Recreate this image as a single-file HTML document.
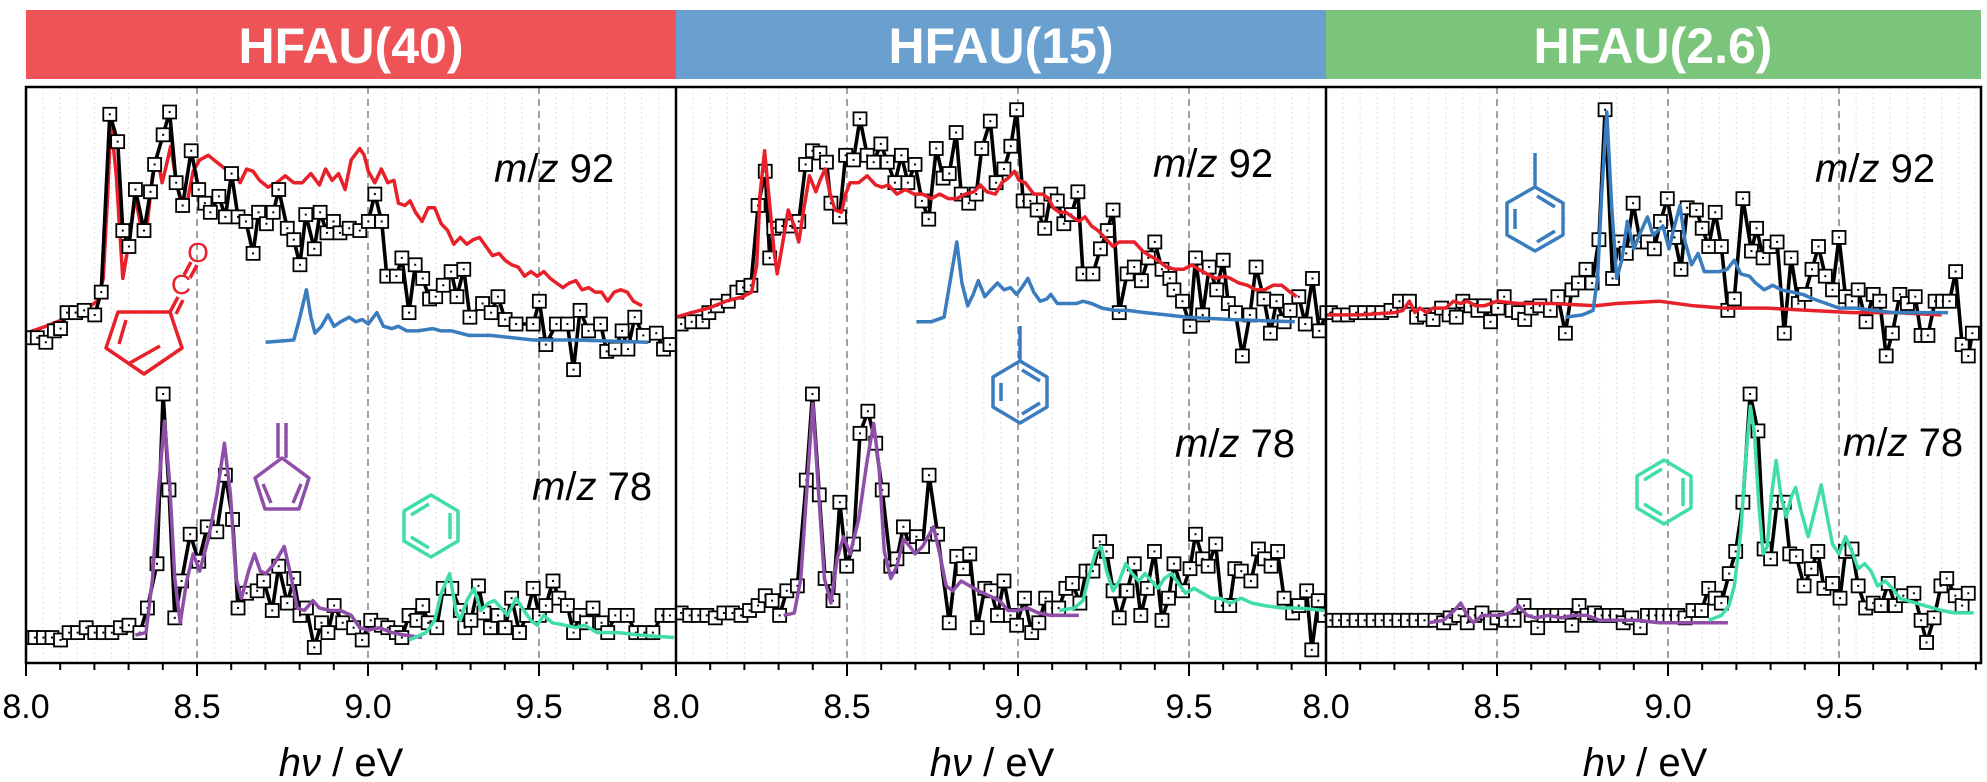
<!DOCTYPE html>
<html><head><meta charset="utf-8"><style>
html,body{margin:0;padding:0;background:#fff;}
svg{display:block;font-family:"Liberation Sans",Arial,sans-serif;}
</style></head><body>
<svg id="chart" width="1987" height="782" viewBox="0 0 1987 782" xmlns="http://www.w3.org/2000/svg">
<defs>
<clipPath id="c0"><rect x="26" y="87" width="650" height="576"/></clipPath>
<clipPath id="c1"><rect x="676" y="87" width="650" height="576"/></clipPath>
<clipPath id="c2"><rect x="1326" y="87" width="655" height="576"/></clipPath>
</defs>
<g>
<rect x="26" y="10" width="650" height="69" fill="#ee5457"/>
<rect x="676" y="10" width="650" height="69" fill="#6aa0cf"/>
<rect x="1326" y="10" width="655" height="69" fill="#7bc47b"/>
<text x="351" y="63" text-anchor="middle" fill="#fff" font-weight="bold" font-size="50">HFAU(40)</text>
<text x="1001" y="63" text-anchor="middle" fill="#fff" font-weight="bold" font-size="50">HFAU(15)</text>
<text x="1653" y="63" text-anchor="middle" fill="#fff" font-weight="bold" font-size="50">HFAU(2.6)</text>
</g>
<g id="grid"></g>
<g id="series"></g>
<g fill="none" stroke-width="3.5" stroke-linejoin="round">
 <g stroke="#e8202a">
  <polygon points="170,312 182,348 144,374 106,348 118,312"/>
  <line x1="126" y1="320" x2="119" y2="344"/><line x1="128" y1="364" x2="160" y2="346"/>
  <line x1="170" y1="312" x2="178" y2="297"/><line x1="176" y1="314" x2="183" y2="300"/>
  <line x1="184" y1="275" x2="191" y2="262"/><line x1="190" y1="278" x2="197" y2="265"/>
 </g>
 <text x="181" y="294" fill="#e8202a" font-size="28" text-anchor="middle">C</text>
 <text x="198" y="262" fill="#e8202a" font-size="28" text-anchor="middle">O</text>
 <g stroke="#8f4fa8">
  <polygon points="282,458 309,478 299,509 265,509 255,478"/>
  <line x1="263" y1="484" x2="271" y2="503"/><line x1="301" y1="484" x2="293" y2="503"/>
  <line x1="278" y1="458" x2="278" y2="423"/><line x1="286" y1="458" x2="286" y2="423"/>
 </g>
 <g stroke="#40dcac">
  <polygon points="431,495 458,511 458,541 431,557 404,541 404,511"/>
  <line x1="411" y1="515" x2="429" y2="504"/><line x1="450" y1="513" x2="450" y2="539"/><line x1="411" y1="537" x2="429" y2="548"/>
 </g>
 <g stroke="#3a7dbf">
  <polygon points="1020,361 1047,377 1047,407 1020,423 993,407 993,377"/>
  <line x1="1001" y1="383" x2="1001" y2="401"/><line x1="1022" y1="370" x2="1040" y2="381"/><line x1="1022" y1="414" x2="1040" y2="403"/>
  <line x1="1020" y1="361" x2="1020" y2="326"/>
 </g>
 <g stroke="#3a7dbf">
  <polygon points="1535,187 1563,203 1563,235 1535,251 1507,235 1507,203"/>
  <line x1="1515" y1="209" x2="1515" y2="229"/><line x1="1537" y1="196" x2="1555" y2="207"/><line x1="1537" y1="242" x2="1555" y2="231"/>
  <line x1="1535" y1="187" x2="1535" y2="153"/>
 </g>
 <g stroke="#40dcac">
  <polygon points="1664,460 1691,476 1691,508 1664,524 1637,508 1637,476"/>
  <line x1="1644" y1="480" x2="1662" y2="469"/><line x1="1683" y1="478" x2="1683" y2="506"/><line x1="1644" y1="504" x2="1662" y2="515"/>
 </g>
</g>
<g font-size="40" fill="#000">
 <text x="494" y="182"><tspan font-style="italic">m</tspan>/<tspan font-style="italic">z</tspan> 92</text>
 <text x="532" y="500"><tspan font-style="italic">m</tspan>/<tspan font-style="italic">z</tspan> 78</text>
 <text x="1153" y="177"><tspan font-style="italic">m</tspan>/<tspan font-style="italic">z</tspan> 92</text>
 <text x="1175" y="457"><tspan font-style="italic">m</tspan>/<tspan font-style="italic">z</tspan> 78</text>
 <text x="1815" y="182"><tspan font-style="italic">m</tspan>/<tspan font-style="italic">z</tspan> 92</text>
 <text x="1843" y="456"><tspan font-style="italic">m</tspan>/<tspan font-style="italic">z</tspan> 78</text>
</g>
<g id="axes"></g>
</svg>
<script>
// ---------- data ----------
const xTicks=[8.0,8.5,9.0,9.5];
const xTickLabels=["8.0","8.5","9.0","9.5"];
// Panel 1 HFAU(40) m/z 92
const p1u_exp_ev=[8.000,8.033,8.058,8.083,8.101,8.120,8.145,8.170,8.201,8.220,8.245,8.268,8.283,8.301,8.320,8.345,8.364,8.376,8.401,8.420,8.439,8.458,8.483,8.505,8.523,8.539,8.564,8.583,8.601,8.620,8.643,8.664,8.680,8.703,8.723,8.739,8.764,8.783,8.801,8.818,8.843,8.860,8.880,8.899,8.918,8.945,8.976,9.001,9.020,9.040,9.055,9.083,9.099,9.120,9.138,9.160,9.180,9.198,9.220,9.243,9.260,9.280,9.298,9.335,9.360,9.380,9.401,9.433,9.483,9.501,9.520,9.551,9.583,9.601,9.620,9.645,9.680,9.698,9.723,9.743,9.760,9.780,9.805,9.843,9.864,9.883];
const p1u_exp_int=[1,1,-1,4,5,12,12,13,11,21,99,87,48,41,66,48,65,77,90,100,69,59,83,66,60,56,63,54,73,54,52,38,56,51,56,66,49,44,33,55,40,56,47,52,47,49,48,52,64,52,28,28,36,12,33,27,18,19,24,30,19,31,10,16,12,19,9,7,7,17,-2,7,7,-13,13,4,7,-5,-4,4,-4,10,2,3,-4,-2];
const p1u_red_ev=[8.000,8.058,8.108,8.170,8.208,8.226,8.239,8.248,8.264,8.283,8.301,8.320,8.339,8.351,8.370,8.383,8.398,8.408,8.423,8.439,8.455,8.473,8.489,8.508,8.533,8.558,8.583,8.608,8.626,8.645,8.664,8.683,8.708,8.733,8.758,8.783,8.808,8.833,8.858,8.876,8.895,8.914,8.933,8.951,8.976,8.989,9.001,9.020,9.039,9.058,9.076,9.089,9.108,9.123,9.139,9.158,9.176,9.195,9.214,9.233,9.251,9.270,9.289,9.308,9.326,9.345,9.364,9.383,9.401,9.420,9.439,9.458,9.476,9.495,9.514,9.533,9.551,9.570,9.589,9.608,9.626,9.645,9.664,9.683,9.701,9.720,9.739,9.758,9.776,9.801];
const p1u_red_int=[3,6,9,13,17,27,64,96,72,27,43,63,47,46,72,81,69,75,85,70,59,62,74,79,81,78,75,75,69,75,74,70,67,69,72,69,69,73,68,75,70,73,66,79,84,81,74,69,75,69,70,60,59,61,56,52,58,58,51,48,42,45,42,44,45,41,37,38,35,33,32,28,30,28,30,27,25,23,25,26,22,23,21,21,17,21,22,21,17,15];
const p1u_blue_ev=[8.701,8.783,8.801,8.820,8.833,8.845,8.864,8.883,8.901,8.920,8.945,8.964,8.983,9.001,9.026,9.045,9.070,9.089,9.114,9.145,9.189,9.214,9.245,9.295,9.358,9.483,9.608,9.820];
const p1u_blue_int=[-1,0,10,22,10,3,6,11,6,8,10,8,9,7,12,6,5,6,4,4,5,4,4,2,2,0,0,-1];
// Panel 1 m/z 78
const p1l_exp_ev=[8.000,8.026,8.051,8.076,8.101,8.126,8.151,8.176,8.201,8.226,8.251,8.276,8.301,8.333,8.355,8.383,8.401,8.418,8.435,8.455,8.480,8.505,8.530,8.558,8.583,8.604,8.620,8.645,8.676,8.695,8.720,8.739,8.764,8.783,8.801,8.820,8.843,8.864,8.883,8.901,8.926,8.958,8.983,9.008,9.039,9.058,9.083,9.099,9.120,9.143,9.160,9.176,9.201,9.220,9.245,9.270,9.283,9.301,9.323,9.339,9.358,9.380,9.401,9.420,9.443,9.464,9.483,9.501,9.520,9.541,9.558,9.583,9.601,9.620,9.639,9.658,9.683,9.701,9.723,9.758,9.783,9.808,9.833,9.860,9.883];
const p1l_exp_int=[1,1,1,1,0,3,3,5,3,3,3,5,6,3,13,31,100,61,9,24,43,32,46,44,67,49,13,19,20,24,12,30,15,25,10,13,-3,7,3,14,7,5,0,8,6,5,3,1,10,8,14,7,5,21,21,12,5,8,22,11,5,10,5,17,3,10,21,10,14,24,17,14,3,10,7,13,7,3,10,10,3,3,3,10,10];
const p1l_purple_ev=[8.320,8.351,8.370,8.389,8.405,8.420,8.435,8.451,8.470,8.489,8.508,8.533,8.558,8.580,8.598,8.614,8.630,8.651,8.668,8.685,8.701,8.726,8.755,8.773,8.793,8.814,8.839,8.858,8.889,8.920,8.951,8.976,9.001,9.033,9.070,9.108,9.158];
const p1l_purple_int=[2,3,25,64,89,64,25,7,24,35,28,41,59,80,59,25,17,28,35,28,27,31,38,27,13,12,16,13,12,12,10,5,4,5,3,2,1];
const p1l_teal_ev=[9.120,9.170,9.195,9.214,9.239,9.258,9.270,9.289,9.310,9.330,9.351,9.370,9.389,9.408,9.433,9.451,9.476,9.495,9.514,9.539,9.576,9.608,9.633,9.670,9.733,9.795,9.895];
const p1l_teal_int=[0,3,8,19,27,11,8,16,21,12,15,16,13,10,17,13,8,6,10,7,6,5,6,3,3,2,1];
// Panel 2 HFAU(15) m/z 92
const p2u_exp_ev=[8.015,8.046,8.078,8.096,8.121,8.153,8.178,8.196,8.219,8.240,8.261,8.274,8.286,8.311,8.334,8.359,8.379,8.399,8.421,8.440,8.453,8.478,8.496,8.519,8.538,8.559,8.578,8.599,8.618,8.640,8.659,8.678,8.699,8.719,8.739,8.761,8.781,8.799,8.819,8.834,8.856,8.878,8.894,8.919,8.936,8.959,8.979,8.996,9.015,9.036,9.056,9.078,9.096,9.115,9.134,9.156,9.175,9.190,9.219,9.241,9.261,9.278,9.296,9.319,9.340,9.361,9.381,9.400,9.421,9.444,9.456,9.481,9.503,9.519,9.540,9.559,9.581,9.600,9.615,9.636,9.656,9.678,9.696,9.719,9.738,9.756,9.778,9.796,9.821,9.840,9.861,9.881,9.903];
const p2u_exp_int=[7,8,8,12,15,17,21,23,24,59,74,36,49,50,50,52,77,83,82,78,60,54,81,79,97,81,78,86,78,69,81,69,77,61,53,84,71,73,91,64,60,64,84,96,69,75,85,101,61,61,57,49,64,61,51,55,65,29,29,40,48,57,12,29,32,26,36,43,31,27,22,17,6,36,11,32,22,35,16,12,-7,11,32,18,3,17,8,13,19,7,27,4,12];
const p2u_red_ev=[8.000,8.046,8.096,8.146,8.196,8.221,8.236,8.246,8.259,8.271,8.286,8.296,8.309,8.328,8.346,8.359,8.371,8.390,8.409,8.421,8.436,8.449,8.465,8.484,8.496,8.509,8.534,8.559,8.584,8.603,8.621,8.646,8.671,8.696,8.721,8.746,8.771,8.796,8.821,8.846,8.871,8.890,8.909,8.934,8.953,8.971,8.990,9.003,9.021,9.046,9.071,9.090,9.103,9.121,9.140,9.159,9.178,9.196,9.215,9.234,9.259,9.278,9.296,9.321,9.340,9.365,9.384,9.409,9.434,9.459,9.484,9.509,9.528,9.553,9.578,9.603,9.621,9.646,9.671,9.696,9.721,9.746,9.771,9.796,9.815];
const p2u_red_int=[10,12,14,17,19,21,33,64,83,64,40,29,40,57,50,43,55,72,65,70,75,65,57,56,64,69,69,72,68,67,68,64,66,64,64,62,64,62,62,64,65,68,65,64,69,71,74,70,69,64,64,62,58,56,56,54,52,54,50,48,44,41,43,43,43,39,37,35,32,31,31,33,31,29,27,28,27,25,24,22,22,24,24,21,19];
const p2u_blue_ev=[8.703,8.746,8.784,8.803,8.821,8.836,8.853,8.869,8.884,8.903,8.921,8.940,8.959,8.978,8.996,9.011,9.029,9.046,9.065,9.084,9.096,9.115,9.146,9.171,9.190,9.215,9.246,9.284,9.321,9.371,9.434,9.496,9.621,9.809];
const p2u_blue_int=[8,8,10,27,43,25,15,20,26,19,22,25,22,23,20,23,27,21,17,18,20,16,16,16,17,16,14,13,13,12,11,10,9,8];
// Panel 2 m/z 78
const p2l_exp_ev=[8.015,8.040,8.065,8.090,8.115,8.140,8.165,8.190,8.215,8.240,8.261,8.281,8.303,8.324,8.355,8.381,8.399,8.419,8.436,8.459,8.479,8.499,8.519,8.538,8.561,8.584,8.603,8.628,8.646,8.665,8.684,8.703,8.721,8.740,8.765,8.799,8.821,8.840,8.859,8.881,8.903,8.921,8.940,8.959,8.978,8.996,9.019,9.040,9.061,9.081,9.099,9.119,9.140,9.159,9.181,9.199,9.219,9.239,9.259,9.278,9.296,9.319,9.340,9.359,9.378,9.399,9.421,9.440,9.456,9.481,9.503,9.519,9.540,9.556,9.578,9.596,9.619,9.634,9.653,9.681,9.703,9.721,9.740,9.759,9.778,9.803,9.821,9.844,9.859,9.878,9.896];
const p2l_exp_int=[11,10,10,10,9,11,11,10,12,14,18,16,10,20,22,65,100,59,25,16,56,30,39,84,93,80,61,30,33,46,38,42,38,67,43,7,34,29,35,5,21,20,10,24,10,6,17,3,7,17,13,13,21,23,15,28,28,40,36,20,9,20,31,10,21,36,8,17,31,20,29,43,33,30,39,14,14,29,28,24,37,33,30,36,17,11,14,20,-4,16,10];
const p2l_purple_ev=[8.315,8.346,8.365,8.384,8.400,8.415,8.434,8.453,8.471,8.490,8.509,8.534,8.559,8.578,8.594,8.609,8.628,8.646,8.665,8.684,8.699,8.721,8.753,8.771,8.790,8.809,8.834,8.859,8.884,8.915,8.946,8.971,8.996,9.028,9.059,9.096,9.140,9.178];
const p2l_purple_int=[10,11,25,64,96,64,25,15,33,42,35,49,73,88,70,36,25,30,41,38,35,38,46,35,22,20,24,22,20,18,16,12,12,13,11,10,10,10];
const p2l_teal_ev=[9.121,9.165,9.190,9.209,9.228,9.243,9.259,9.278,9.296,9.315,9.334,9.353,9.371,9.390,9.409,9.428,9.449,9.469,9.490,9.515,9.540,9.565,9.590,9.621,9.653,9.684,9.721,9.771,9.821,9.896];
const p2l_teal_int=[12,13,16,27,36,38,28,20,24,31,27,24,27,24,21,25,27,23,19,21,19,17,17,15,17,15,14,13,13,12];
// Panel 3 HFAU(2.6) m/z 92
const p3u_exp_ev=[8.013,8.038,8.063,8.088,8.113,8.138,8.163,8.190,8.215,8.244,8.265,8.288,8.313,8.338,8.360,8.381,8.400,8.423,8.444,8.463,8.481,8.503,8.521,8.544,8.563,8.581,8.600,8.625,8.656,8.678,8.700,8.719,8.738,8.760,8.778,8.798,8.816,8.838,8.856,8.878,8.898,8.919,8.940,8.960,8.978,8.998,9.019,9.038,9.056,9.083,9.100,9.119,9.138,9.156,9.175,9.194,9.219,9.244,9.259,9.278,9.298,9.319,9.340,9.360,9.381,9.400,9.421,9.440,9.460,9.481,9.500,9.519,9.538,9.556,9.579,9.600,9.619,9.638,9.656,9.678,9.700,9.723,9.740,9.760,9.781,9.803,9.823,9.841,9.860,9.878,9.890];
const p3u_exp_int=[12,11,11,12,12,12,12,13,17,17,10,11,9,14,11,10,17,15,13,15,8,14,19,13,12,9,14,15,13,19,3,22,25,31,25,44,101,27,43,38,60,43,43,40,52,62,45,31,58,57,49,41,56,41,13,18,62,39,49,36,41,43,3,36,16,20,31,41,28,22,45,19,17,22,8,20,17,-7,3,20,16,19,2,2,17,17,17,30,-2,-7,3];
const p3u_red_ev=[8.000,8.100,8.200,8.225,8.244,8.260,8.275,8.294,8.313,8.331,8.350,8.373,8.394,8.413,8.438,8.463,8.500,8.563,8.663,8.788,8.850,8.975,9.075,9.163,9.288,9.413,9.538,9.663,9.800];
const p3u_red_int=[11,11,12,13,17,12,14,12,14,14,14,17,16,17,15,15,17,16,16,15,16,17,15,14,14,13,12,12,11];
const p3u_blue_ev=[8.700,8.750,8.781,8.794,8.806,8.821,8.835,8.850,8.865,8.881,8.900,8.919,8.940,8.956,8.971,8.985,9.003,9.019,9.035,9.050,9.069,9.088,9.106,9.125,9.150,9.173,9.194,9.213,9.238,9.256,9.281,9.306,9.331,9.363,9.394,9.425,9.463,9.500,9.550,9.600,9.663,9.725,9.819];
const p3u_blue_int=[10,11,13,27,64,100,59,27,35,52,40,47,54,46,48,50,40,50,59,43,33,38,30,30,30,31,35,29,28,25,22,24,22,21,20,18,16,14,14,13,12,12,12];
// Panel 3 m/z 78
const p3l_exp_ev=[8.013,8.038,8.063,8.088,8.113,8.138,8.163,8.188,8.213,8.238,8.263,8.288,8.319,8.344,8.363,8.388,8.413,8.435,8.456,8.481,8.500,8.525,8.550,8.579,8.600,8.619,8.638,8.656,8.675,8.698,8.719,8.740,8.763,8.785,8.806,8.828,8.850,8.869,8.894,8.919,8.940,8.963,8.985,9.006,9.028,9.050,9.073,9.098,9.119,9.138,9.156,9.179,9.198,9.219,9.240,9.263,9.281,9.300,9.319,9.340,9.356,9.375,9.398,9.419,9.438,9.456,9.481,9.503,9.519,9.538,9.556,9.578,9.600,9.623,9.644,9.665,9.688,9.719,9.740,9.756,9.778,9.798,9.815,9.840,9.860,9.878];
const p3l_exp_int=[8,8,8,8,8,8,8,8,8,8,8,8,8,7,9,10,7,10,11,7,9,8,8,14,10,5,10,10,10,10,6,14,10,11,10,10,10,7,9,5,10,10,10,10,10,9,12,12,21,17,15,27,36,56,100,85,37,33,56,56,35,34,22,29,36,21,23,17,36,37,22,13,15,14,23,14,18,19,8,-1,9,22,25,18,14,19];
const p3l_purple_ev=[8.300,8.344,8.375,8.394,8.413,8.431,8.456,8.481,8.506,8.538,8.563,8.588,8.613,8.650,8.688,8.725,8.763,8.800,8.850,8.913,8.975,9.038,9.100,9.175];
const p3l_purple_int=[7,8,12,15,10,7,10,10,10,11,14,10,9,10,9,10,10,8,8,8,7,7,7,7];
const p3l_teal_ev=[9.119,9.156,9.178,9.194,9.213,9.228,9.241,9.253,9.265,9.278,9.290,9.303,9.316,9.331,9.346,9.360,9.373,9.388,9.410,9.428,9.448,9.463,9.481,9.500,9.519,9.538,9.556,9.575,9.594,9.613,9.635,9.656,9.678,9.700,9.725,9.750,9.775,9.800,9.838,9.894];
const p3l_teal_int=[8,10,14,22,44,75,95,84,56,35,38,59,73,58,50,58,62,53,42,52,63,52,39,35,42,36,29,31,28,22,24,21,17,16,15,14,13,12,11,11];

// ---------- scales ----------
const X0=[26,676,1326], PXEV=342;
function xS(p,e){return X0[p]+(e-8)*PXEV;}
function yU(v){return 340-v*2.28;}
function yL(v){return 640-v*2.46;}
const NS="http://www.w3.org/2000/svg";
function mk(tag,attrs,parent){const el=document.createElementNS(NS,tag);for(const k in attrs)el.setAttribute(k,attrs[k]);parent.appendChild(el);return el;}
const grid=document.getElementById('grid'), ser=document.getElementById('series'), axes=document.getElementById('axes');

for(let p=0;p<3;p++){
  const xe=p===2?1981:X0[p]+650;
  for(let i=1;i<40;i++){
    const e=8+i*0.05; const x=xS(p,e); if(x>=xe-1)break;
    const isMajor=Math.abs((e*2)-Math.round(e*2))<1e-6;
    const g=mk('line',{x1:x,x2:x,y1:87,y2:663,stroke:isMajor?'#8a8a8a':'#e4e4e4','stroke-width':isMajor?1.6:1.2,'stroke-dasharray':isMajor?'7,5':'2,3'},grid);
    
    
  }
}

function line(p,ev,iv,ys,color,w,name){
  const g=mk('g',{'clip-path':'url(#c'+p+')'},ser);
  
  
  const pts=ev.map((e,i)=>xS(p,e).toFixed(1)+','+ys(iv[i]).toFixed(1)).join(' ');
  const pl=mk('polyline',{points:pts,fill:'none',stroke:color,'stroke-width':w,'stroke-linejoin':'round'},g);
  
  
  return g;
}
function exp(p,ev,iv,ys,name){
  const g=line(p,ev,iv,ys,'#000',3.6,name);
  ev.forEach((e,i)=>{
    const x=xS(p,e), y=ys(iv[i]);
    const r=mk('rect',{x:x-6.5,y:y-6.5,width:13,height:13,fill:'#fff',stroke:'#000','stroke-width':1.8},g);
    
    
    const d=mk('rect',{x:x-1,y:y-1,width:2,height:2,fill:'#000'},g);
    
    
  });
}
const RED='#e8202a',BLUE='#3a7dbf',PUR='#8f4fa8',TEAL='#40dcac';
line(0,p1u_red_ev,p1u_red_int,yU,RED,3.5,'p1-mz92-ketene-sim');
exp(0,p1u_exp_ev,p1u_exp_int,yU,'p1-mz92-exp');
line(0,p1u_blue_ev,p1u_blue_int,yU,BLUE,3.5,'p1-mz92-toluene-sim');
exp(0,p1l_exp_ev,p1l_exp_int,yL,'p1-mz78-exp');
line(0,p1l_purple_ev,p1l_purple_int,yL,PUR,3.5,'p1-mz78-fulvene-sim');
line(0,p1l_teal_ev,p1l_teal_int,yL,TEAL,3.5,'p1-mz78-benzene-sim');
exp(1,p2u_exp_ev,p2u_exp_int,yU,'p2-mz92-exp');
line(1,p2u_red_ev,p2u_red_int,yU,RED,3.5,'p2-mz92-ketene-sim');
line(1,p2u_blue_ev,p2u_blue_int,yU,BLUE,3.5,'p2-mz92-toluene-sim');
exp(1,p2l_exp_ev,p2l_exp_int,yL,'p2-mz78-exp');
line(1,p2l_purple_ev,p2l_purple_int,yL,PUR,3.5,'p2-mz78-fulvene-sim');
line(1,p2l_teal_ev,p2l_teal_int,yL,TEAL,3.5,'p2-mz78-benzene-sim');
exp(2,p3u_exp_ev,p3u_exp_int,yU,'p3-mz92-exp');
line(2,p3u_red_ev,p3u_red_int,yU,RED,3.5,'p3-mz92-ketene-sim');
line(2,p3u_blue_ev,p3u_blue_int,yU,BLUE,3.5,'p3-mz92-toluene-sim');
exp(2,p3l_exp_ev,p3l_exp_int,yL,'p3-mz78-exp');
line(2,p3l_purple_ev,p3l_purple_int,yL,PUR,3.5,'p3-mz78-fulvene-sim');
line(2,p3l_teal_ev,p3l_teal_int,yL,TEAL,3.5,'p3-mz78-benzene-sim');

const fr=mk('rect',{x:26,y:87,width:1955,height:576,fill:'none',stroke:'#000','stroke-width':2.5},axes);


[676,1326].forEach(x=>{
  const d=mk('line',{x1:x,x2:x,y1:87,y2:663,stroke:'#000','stroke-width':2.5},axes);
  
  
});
for(let p=0;p<3;p++){
  const xe=p===2?1982:X0[p]+651;
  for(let i=0;i<20;i++){
    const e=8+i*0.1; const x=xS(p,e); if(x>xe)break;
    const major=(i%5===0);
    const t=mk('line',{x1:x,x2:x,y1:663,y2:major?676:670,stroke:'#000','stroke-width':2},axes);
    
    
  }
  xTicks.forEach((e,i)=>{
    const tx=mk('text',{x:xS(p,e),y:718,'text-anchor':'middle','font-size':34,fill:'#000'},axes);
    tx.textContent=xTickLabels[i];
    
    
  });
  const title=mk('text',{x:[341,992,1645][p],y:776,'text-anchor':'middle','font-size':40,fill:'#000'},axes);
  title.innerHTML='<tspan font-style="italic">hν</tspan> / eV';
  
  
}
</script>
</body></html>
